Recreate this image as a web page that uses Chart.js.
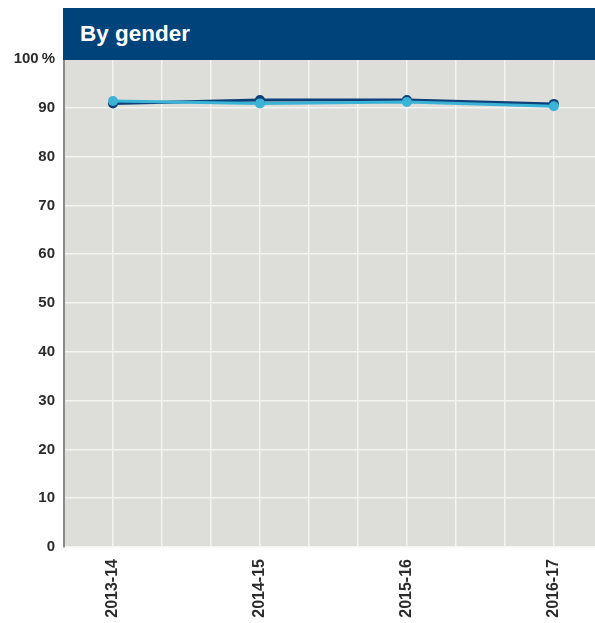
<!DOCTYPE html>
<html>
<head>
<meta charset="utf-8">
<script src="https://cdn.jsdelivr.net/npm/chart.js@4"></script>
<style>
  html, body { margin: 0; padding: 0; background: #ffffff; }
  #wrap { position: relative; width: 595px; height: 623px; }
  #title {
    position: absolute; left: 63px; top: 8px; width: 532px; height: 52px;
    background: #00427a; color: #ffffff;
    font-family: "Liberation Sans", Arial, sans-serif; font-weight: bold; font-size: 22.5px;
    line-height: 52px; padding-left: 17px; box-sizing: border-box;
  }
  canvas { position: absolute; left: 0; top: 0; }
</style>
</head>
<body>
<div id="wrap">
  <canvas id="c" width="595" height="623"></canvas>
  <div id="title">By gender</div>
</div>
<script>
const categories = ["2013-14", "2014-15", "2015-16", "2016-17"];
const seriesDark = [90.9, 91.6, 91.6, 90.8];
const seriesLight = [91.4, 90.9, 91.2, 90.3];
const yTicks = [0, 10, 20, 30, 40, 50, 60, 70, 80, 90, 100];

const SPACING = 3;   // grid steps between categories
const OFFSET = 1;    // first category position
const xPos = i => OFFSET + i * SPACING;
const toPoints = arr => arr.map((v, i) => ({ x: xPos(i), y: v }));

const bgPlugin = {
  id: 'plotBg',
  beforeDraw(chart) {
    const { ctx, chartArea: a } = chart;
    ctx.save();
    ctx.fillStyle = '#dddeda';
    ctx.fillRect(a.left, a.top, a.right - a.left, a.bottom - a.top);
    ctx.restore();
  }
};

const DARK = '#0d3f78';
const LIGHT = '#3bb3d6';

new Chart(document.getElementById('c'), {
  type: 'line',
  data: {
    datasets: [
      {
        label: 'Light', data: toPoints(seriesLight),
        borderColor: LIGHT, backgroundColor: LIGHT,
        pointBackgroundColor: LIGHT, pointBorderColor: LIGHT,
        borderWidth: 3, pointRadius: 5, pointBorderWidth: 0, tension: 0
      },
      {
        label: 'Dark', data: toPoints(seriesDark),
        borderColor: DARK, backgroundColor: DARK,
        pointBackgroundColor: DARK, pointBorderColor: DARK,
        borderWidth: 3, pointRadius: 5, pointBorderWidth: 0, tension: 0
      }
    ]
  },
  options: {
    responsive: false,
    animation: false,
    layout: { autoPadding: false, padding: { top: 59, right: 0, left: 0, bottom: 0 } },
    plugins: { legend: { display: false }, tooltip: { enabled: false }, title: { display: false } },
    scales: {
      x: {
        type: 'linear',
        min: 0,
        max: 10.84,
        afterFit(scale) { scale.height = 76; scale.paddingRight = 0; scale.paddingLeft = 0; },
        afterBuildTicks(scale) {
          const t = [];
          for (let v = 0; v <= 10; v++) t.push({ value: v });
          scale.ticks = t;
        },
        ticks: {
          autoSkip: false,
          minRotation: 90, maxRotation: 90,
          padding: 12,
          color: '#2b2b2b',
          font: { family: '"Liberation Sans", Arial, sans-serif', weight: 'bold', size: 16 },
          callback(v) {
            const i = (v - OFFSET) / SPACING;
            return Number.isInteger(i) && i >= 0 && i < categories.length ? categories[i] : '';
          }
        },
        grid: { color: '#f3f3f1', lineWidth: 1.5, drawTicks: false },
        border: { display: false }
      },
      y: {
        min: 0, max: 100,
        afterFit(scale) { scale.width = 64; },
        afterBuildTicks(scale) { scale.ticks = yTicks.map(v => ({ value: v })); },
        ticks: {
          padding: 9,
          color: '#2b2b2b',
          font: { family: '"Liberation Sans", Arial, sans-serif', weight: 'bold', size: 15 },
          callback(v) { return v === 100 ? '100\u2009%' : String(v); }
        },
        grid: { color: '#f3f3f1', lineWidth: 1.5, drawTicks: false },
        border: { display: true, color: '#8a8a8a', width: 2 }
      }
    }
  },
  plugins: [bgPlugin]
});
</script>
</body>
</html>
